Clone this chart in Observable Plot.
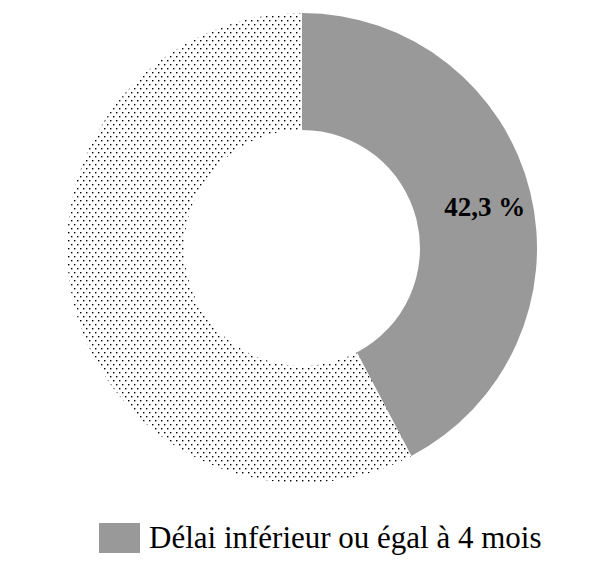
<!DOCTYPE html>
<html>
<head>
<meta charset="utf-8">
<script src="https://cdn.jsdelivr.net/npm/d3@7"></script>
<script src="https://cdn.jsdelivr.net/npm/@observablehq/plot@0.6"></script>
<style>
  html, body { margin: 0; padding: 0; background: #fff; }
  #wrap { position: relative; width: 606px; height: 574px; }
  #legend { position: absolute; left: 99px; top: 520px; display: flex; align-items: center; font-family: "Liberation Serif", "DejaVu Serif", serif; font-size: 31px; color: #000; white-space: nowrap; }
  #legend .sw { width: 41px; height: 30px; background: #999999; margin-right: 9px; }
</style>
</head>
<body>
<div id="wrap"><div id="chart"></div><div id="legend"></div></div>
<script>
const categories = ["Délai inférieur ou égal à 4 mois", "Délai supérieur à 4 mois"];
const values = [42.3, 57.7];
const labels = ["42,3 %", ""];
const legendItems = ["Délai inférieur ou égal à 4 mois"];

const data = categories.map((c, i) => ({category: c, value: values[i], label: labels[i]}));
const pie = d3.pie().sort(null).value(d => d.value)(data);

const R = 235, r0 = 118;
const fills = ["#999999", "url(#dots)"];

function donut(index, scales, vals, dims, context) {
  const cx = scales.x(0), cy = scales.y(0);
  const ro = scales.x(R) - cx, ri = scales.x(r0) - cx;
  const arc = d3.arc().innerRadius(ri).outerRadius(ro);
  const g = d3.create("svg:g");
  const defs = g.append("defs");
  const pat = defs.append("pattern").attr("id", "dots").attr("patternUnits", "userSpaceOnUse")
    .attr("width", 6).attr("height", 8);
  pat.append("rect").attr("width", 6).attr("height", 8).attr("fill", "#fff");
  pat.append("rect").attr("x", 0).attr("y", 0).attr("width", 1.4).attr("height", 1.4).attr("fill", "#000");
  pat.append("rect").attr("x", 3).attr("y", 4).attr("width", 1.4).attr("height", 1.4).attr("fill", "#000");
  g.selectAll("path").data(pie).join("path")
    .attr("transform", `translate(${cx},${cy})`)
    .attr("d", arc)
    .attr("fill", (d, i) => fills[i]);
  return g.node();
}

const arcC = d3.arc().innerRadius(r0).outerRadius(R);
const labelData = pie.filter(p => p.data.label).map(p => {
  const [x, y] = arcC.centroid(p);
  return {x, y: -y, label: p.data.label};
});

const chart = Plot.plot({
  width: 606,
  height: 500,
  margin: 0,
  x: {domain: [-302, 304], axis: null},
  y: {domain: [-252, 248], axis: null},
  marks: [
    donut,
    Plot.text(labelData, {x: "x", y: "y", text: "label", dx: 11, dy: 1, fontSize: 27, fontWeight: "bold",
      fontFamily: "'Liberation Serif', 'DejaVu Serif', serif", fill: "#000"})
  ]
});
document.getElementById("chart").appendChild(chart);

const lg = document.getElementById("legend");
legendItems.forEach(t => {
  const sw = document.createElement("div"); sw.className = "sw";
  const tx = document.createElement("span"); tx.textContent = t;
  lg.appendChild(sw); lg.appendChild(tx);
});
</script>
</body>
</html>
